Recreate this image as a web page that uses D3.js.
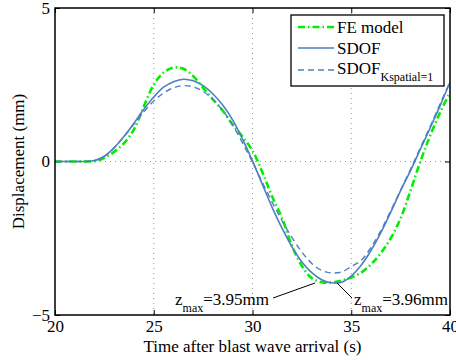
<!DOCTYPE html>
<html>
<head>
<meta charset="utf-8">
<script src="https://cdn.jsdelivr.net/npm/d3@7"></script>
<style>
  body { margin: 0; background: #fff; }
  svg text { font-family: "Liberation Serif", "DejaVu Serif", serif !important; }
</style>
</head>
<body>
<div id="chart"></div>
<script>
// time after blast wave arrival (s)
const time = [20, 20.5, 21, 21.5, 22, 22.5, 23, 23.5, 24, 24.5, 25, 25.5, 26, 26.5, 27, 27.5,
  28, 28.5, 29, 29.5, 30, 30.5, 31, 31.5, 32, 32.5, 33, 33.5, 34, 34.5, 35, 35.5,
  36, 36.5, 37, 37.5, 38, 38.5, 39, 39.5, 40];

// displacement (mm)
const feModel = [0, 0, 0, 0, 0.01, 0.12, 0.32, 0.6, 1.05, 1.8, 2.5, 2.9, 3.06, 3.02, 2.78, 2.4,
  2.02, 1.65, 1.2, 0.8, 0.35, -0.35, -1.15, -1.85, -2.75, -3.4, -3.8, -3.93, -3.94, -3.88, -3.78, -3.62,
  -3.35, -2.98, -2.5, -1.85, -0.95, 0, 0.85, 1.6, 2.25];
const sdof = [0, 0, 0, 0, 0.03, 0.17, 0.45, 0.82, 1.25, 1.7, 2.1, 2.42, 2.6, 2.68, 2.63, 2.47,
  2.2, 1.83, 1.35, 0.72, 0.02, -0.75, -1.5, -2.18, -2.78, -3.27, -3.62, -3.85, -3.95, -3.93, -3.73, -3.38,
  -2.9, -2.32, -1.65, -0.95, -0.3, 0.4, 1.1, 1.82, 2.58];
const sdofK = [0, 0, 0, 0, 0.03, 0.17, 0.45, 0.82, 1.22, 1.62, 1.97, 2.23, 2.4, 2.47, 2.43, 2.28,
  2.02, 1.65, 1.18, 0.6, -0.02, -0.68, -1.33, -1.93, -2.48, -2.95, -3.32, -3.55, -3.63, -3.6, -3.42, -3.22,
  -2.8, -2.25, -1.6, -0.93, -0.25, 0.45, 1.15, 1.88, 2.6];

const xTicks = [20, 25, 30, 35, 40];
const yTicks = [-5, 0, 5];

const FONT = '"Liberation Serif", "DejaVu Serif", serif';

const margin = { top: 8, right: 6, bottom: 45, left: 55 };
const width = 456 - margin.left - margin.right;
const height = 360 - margin.top - margin.bottom;

const root = d3.select('#chart').append('svg')
  .attr('width', 456)
  .attr('height', 360)
  .attr('font-family', FONT);

const svg = root.append('g')
  .attr('transform', `translate(${margin.left},${margin.top})`);

const x = d3.scaleLinear().domain([20, 40]).range([0, width]);
const y = d3.scaleLinear().domain([-5, 5]).range([height, 0]);

// grid
svg.append('g').selectAll('line').data(xTicks.slice(1, -1)).enter().append('line')
  .attr('x1', d => x(d)).attr('x2', d => x(d))
  .attr('y1', 0).attr('y2', height)
  .attr('stroke', '#999').attr('stroke-width', 1).attr('stroke-dasharray', '1,4');
svg.append('g').selectAll('line').data(yTicks.slice(1, -1)).enter().append('line')
  .attr('y1', d => y(d)).attr('y2', d => y(d))
  .attr('x1', 0).attr('x2', width)
  .attr('stroke', '#999').attr('stroke-width', 1).attr('stroke-dasharray', '1,4');

// axes (ticks inward, box on)
const axisStyle = g => {
  g.attr('font-family', FONT).attr('font-size', 17);
  g.select('.domain').remove();
  g.selectAll('line').attr('stroke', '#000');
  g.selectAll('text').attr('fill', '#000');
};
svg.append('g').attr('transform', `translate(0,${height})`)
  .call(d3.axisBottom(x).tickValues(xTicks).tickSizeInner(-5).tickPadding(5).tickFormat(d3.format('d')))
  .call(axisStyle);
svg.append('g')
  .call(d3.axisLeft(y).tickValues(yTicks).tickSizeInner(-5).tickPadding(5)
    .tickFormat(d => d < 0 ? '\u2212' + Math.abs(d) : d))
  .call(axisStyle);
svg.append('g')
  .call(d3.axisTop(x).tickValues(xTicks).tickSizeInner(-5).tickFormat(''))
  .call(axisStyle);
svg.append('g').attr('transform', `translate(${width},0)`)
  .call(d3.axisRight(y).tickValues(yTicks).tickSizeInner(-5).tickFormat(''))
  .call(axisStyle);

// lines
const line = d3.line()
  .x((d, i) => x(time[i]))
  .y(d => y(d))
  .curve(d3.curveCatmullRom.alpha(0.5));

const series = [
  { name: 'FE model', values: feModel, color: '#00ee00', width: 2.6, dash: '7,3,1.5,3' },
  { name: 'SDOF', values: sdof, color: '#4f7fc0', width: 1.6, dash: null },
  { name: 'SDOF', sub: 'Kspatial=1', values: sdofK, color: '#4f7fc0', width: 1.4, dash: '6,4' },
];

svg.append('clipPath').attr('id', 'plotclip')
  .append('rect').attr('width', width).attr('height', height);

series.forEach(s => {
  svg.append('path')
    .datum(s.values)
    .attr('clip-path', 'url(#plotclip)')
    .attr('fill', 'none')
    .attr('stroke', s.color)
    .attr('stroke-width', s.width)
    .attr('stroke-dasharray', s.dash)
    .attr('d', line);
});

// box
svg.append('rect').attr('width', width).attr('height', height)
  .attr('fill', 'none').attr('stroke', '#000').attr('stroke-width', 1.5);

// annotations
const note = (tx, ty, label) => {
  const t = root.append('text').attr('x', tx).attr('y', ty).attr('font-size', 17);
  t.append('tspan').text('z');
  t.append('tspan').attr('font-size', 12).attr('dy', 7).text('max');
  t.append('tspan').attr('dy', -7).text(label);
};
note(175, 305, '=3.95mm');
note(354, 305, '=3.96mm');
root.append('line').attr('x1', 273).attr('y1', 298).attr('x2', 315).attr('y2', 283)
  .attr('stroke', '#000').attr('stroke-width', 1);
root.append('line').attr('x1', 337).attr('y1', 283).attr('x2', 352).attr('y2', 298)
  .attr('stroke', '#000').attr('stroke-width', 1);

// legend
const legend = root.append('g');
legend.append('rect').attr('x', 291).attr('y', 15).attr('width', 153).attr('height', 71)
  .attr('fill', '#fff').attr('stroke', '#000').attr('stroke-width', 1.3);
const rowsY = [27, 48, 70];
const textY = [33, 54, 74];
series.forEach((s, i) => {
  legend.append('line')
    .attr('x1', 298).attr('x2', 334).attr('y1', rowsY[i]).attr('y2', rowsY[i])
    .attr('stroke', s.color).attr('stroke-width', s.width)
    .attr('stroke-dasharray', s.dash);
  const t = legend.append('text').attr('x', 337).attr('y', textY[i]).attr('font-size', 17).text(s.name);
  if (s.sub) {
    t.append('tspan').attr('font-size', 12).attr('dy', 7).text(s.sub);
  }
});

// axis labels
root.append('text')
  .attr('x', margin.left + width / 2).attr('y', 352)
  .attr('text-anchor', 'middle').attr('font-size', 17)
  .text('Time after blast wave arrival (s)');
root.append('text')
  .attr('transform', `translate(24,${margin.top + height / 2}) rotate(-90)`)
  .attr('text-anchor', 'middle').attr('font-size', 17)
  .text('Displacement (mm)');
</script>
</body>
</html>
